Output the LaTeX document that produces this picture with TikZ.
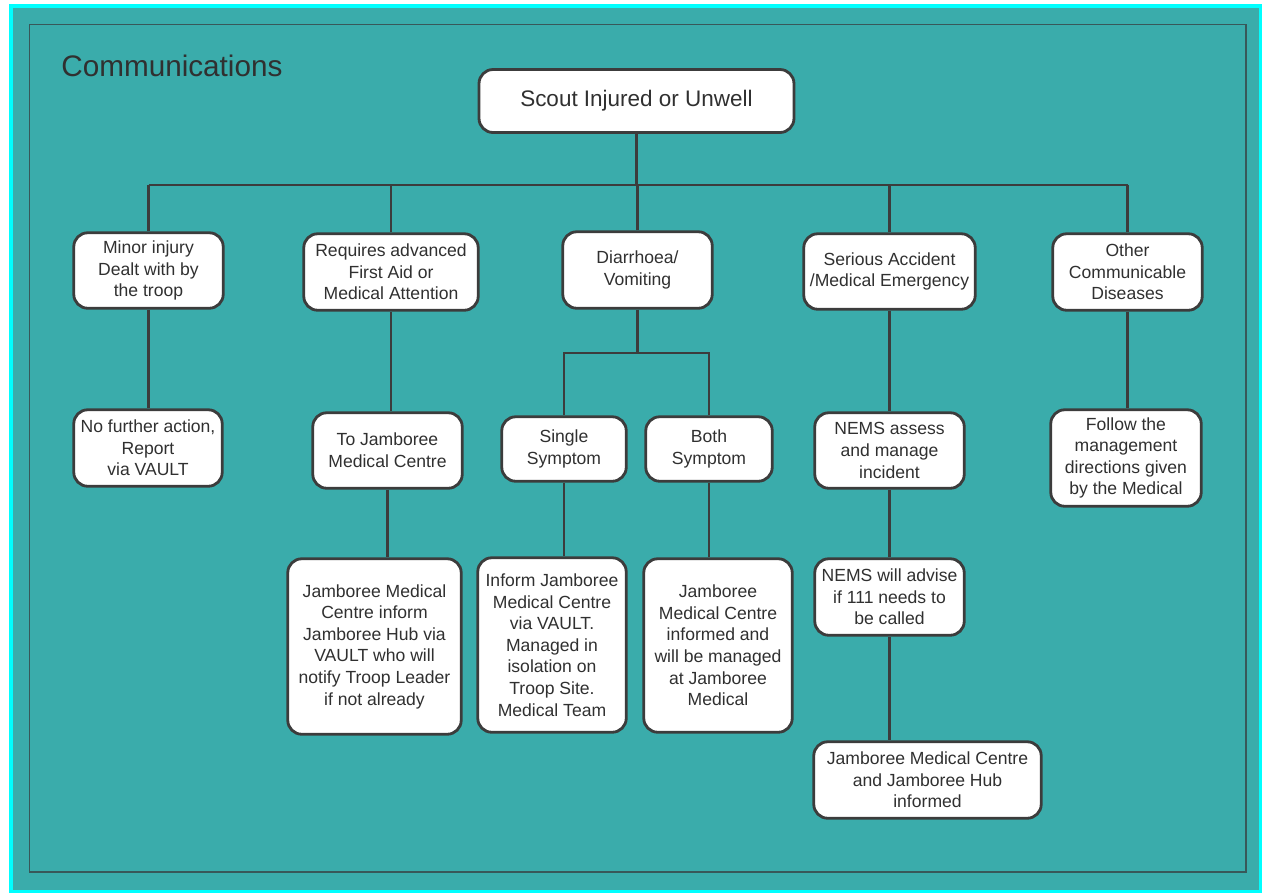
\documentclass[tikz,border=0pt]{standalone}
\usepackage{fontspec}
\setmainfont{Liberation Sans}
\usetikzlibrary{positioning,calc}

\definecolor{sea}{RGB}{58,172,171}
\definecolor{rim}{RGB}{0,255,255}
\definecolor{frameline}{RGB}{56,88,89}
\definecolor{boxline}{RGB}{60,60,60}
\definecolor{txt}{RGB}{48,48,48}

\begin{document}
\begin{tikzpicture}[x=0.02cm,y=-0.02cm]
            \tikzstyle{box}=[draw=boxline, fill=white, line width=1.6pt,
            rounded corners=0.28cm, align=center, inner sep=0pt, text=txt,
            font=\fontsize{10}{12.3}\selectfont]
            \tikzstyle{link}=[draw=boxline, line width=1.7pt]

            % page and frame
            \useasboundingbox (0,0) rectangle (1262,893);
            \fill[white] (0,0) rectangle (1262,893);
            \fill[rim] (9,4) rectangle (1262,893);
            \fill[sea] (13,8) rectangle (1259,890);
            \draw[frameline, line width=1.1pt] (29.5,24.5) rectangle (1246,872);

            \node[anchor=base west, inner sep=0pt, text=txt, font=\fontsize{16.9}{20}\selectfont]
                (title) at (61,76.5) {Communications};

            \node[box, minimum width=6.3cm, minimum height=1.26cm,
                font=\fontsize{12.8}{15}\selectfont] (root) at (636.5,101) {Scout Injured or Unwell};

            % first row
            \node[box, minimum width=2.99cm, minimum height=1.51cm] (minor) at (148.5,270.5)
                {Minor injury\\Dealt with by\\the troop};
            \node[box, minimum width=3.49cm, minimum height=1.53cm] (advanced) at (391,272)
                {Requires advanced\\First Aid or\\Medical Attention};
            \node[box, minimum width=2.99cm, minimum height=1.53cm] (diarrhoea) at (637.5,270)
                {Diarrhoea/\\Vomiting};
            \node[box, minimum width=3.43cm, minimum height=1.51cm] (serious) at (889.5,271.5)
                {Serious Accident\\/Medical Emergency};
            \node[box, minimum width=2.99cm, minimum height=1.53cm] (other) at (1127.5,272)
                {Other\\Communicable\\Diseases};

            % second row
            \node[box, minimum width=2.97cm, minimum height=1.53cm] (nofurther) at (148,448)
                {No further action,\\Report\\via VAULT};
            \node[box, minimum width=2.99cm, minimum height=1.51cm] (tojmc) at (387.5,450.5)
                {To Jamboree\\Medical Centre};
            \node[box, minimum width=2.49cm, minimum height=1.29cm] (single) at (564,449)
                {Single\\Symptom};
            \node[box, minimum width=2.53cm, minimum height=1.29cm] (both) at (709,449)
                {Both\\Symptom};
            \node[box, minimum width=2.99cm, minimum height=1.51cm] (nemsassess) at (889.5,450.5)
                {NEMS assess\\and manage\\incident};
            \node[box, minimum width=3.01cm, minimum height=1.93cm] (follow) at (1126,458)
                {Follow the\\management\\directions given\\by the Medical};

            % third row
            \node[box, minimum width=3.47cm, minimum height=3.51cm] (jmcinform) at (374.5,646.5)
                {Jamboree Medical\\Centre inform\\Jamboree Hub via\\VAULT who will\\notify Troop Leader\\if not already};
            \node[box, minimum width=2.97cm, minimum height=3.49cm] (inform) at (552,645)
                {Inform Jamboree\\Medical Centre\\via VAULT.\\Managed in\\isolation on\\Troop Site.\\Medical Team};
            \node[box, minimum width=2.97cm, minimum height=3.47cm] (informed) at (718,645.5)
                {Jamboree\\Medical Centre\\informed and\\will be managed\\at Jamboree\\Medical};
            \node[box, minimum width=2.99cm, minimum height=1.53cm] (nemsadvise) at (889.5,597)
                {NEMS will advise\\if 111 needs to\\be called};
            \node[box, minimum width=4.55cm, minimum height=1.53cm] (hubinformed) at (927.5,780)
                {Jamboree Medical Centre\\and Jamboree Hub\\informed};

            % connectors
            \coordinate (bus) at (639,185);
            \draw[link] (root.south) -- (root.south |- bus);
            \draw[link] (minor.north |- bus) -- (other.north |- bus);
            \foreach \n in {minor,advanced,diarrhoea,serious,other}
                \draw[link] (\n.north) -- (\n.north |- bus);

            \coordinate (subbus) at (638,353);
            \draw[link] (diarrhoea.south) -- (diarrhoea.south |- subbus);
            \draw[link] (single.north) |- (subbus) -| (both.north);

            \draw[link] (minor.south) -- (minor.south |- nofurther.north);
            \draw[link] (advanced.south) -- (advanced.south |- tojmc.north);
            \draw[link] (tojmc.south) -- (tojmc.south |- jmcinform.north);
            \draw[link] (single.south) -- (single.south |- inform.north);
            \draw[link] (both.south) -- (both.south |- informed.north);
            \draw[link] (serious.south) -- (serious.south |- nemsassess.north);
            \draw[link] (nemsassess.south) -- (nemsassess.south |- nemsadvise.north);
            \draw[link] (nemsadvise.south) -- (nemsadvise.south |- hubinformed.north);
            \draw[link] (other.south) -- (other.south |- follow.north);
\end{tikzpicture}
\end{document}
